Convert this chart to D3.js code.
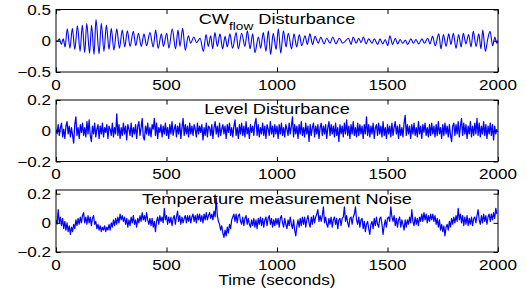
<!DOCTYPE html>
<html><head><meta charset="utf-8">
<script src="https://cdn.jsdelivr.net/npm/d3@7"></script>
<style>body{margin:0;background:#fff}svg{display:block}</style>
</head><body><svg id="c" width="527" height="295"></svg>
<script>
// ---------- DATA ----------
const timeTicks = [0, 500, 1000, 1500, 2000];
const cwTicks = [-0.5, 0, 0.5];
const levelTicks = [-0.2, 0, 0.2];
const tempTicks = [-0.2, 0, 0.2];
const xLabel = "Time (seconds)";

// CW flow disturbance: turning points (seconds, value)
const cwTime = [0,6,15,24,33,41,51,63,74,85,97,109,119,130,139,152,161,172,181,195,205,217,228,240,250,262,275,287,300,311,323,335,350,361,373,386,398,410,425,440,451,462,477,486,501,511,526,541,552,561,573,585,599,609,624,636,652,667,679,689,700,709,719,730,742,754,765,775,787,799,815,825,840,855,866,878,890,900,916,926,938,950,961,971,983,996,1006,1017,1029,1041,1051,1066,1077,1089,1101,1112,1127,1137,1149,1161,1172,1187,1198,1213,1225,1240,1252,1267,1282,1297,1324,1335,1345,1358,1370,1380,1391,1403,1415,1430,1440,1456,1466,1478,1490,1501,1511,1523,1535,1546,1557,1569,1581,1591,1606,1617,1629,1641,1656,1667,1682,1692,1704,1716,1732,1742,1753,1765,1777,1787,1798,1810,1822,1833,1843,1855,1867,1878,1888,1901,1913,1923,1931,1943,1953,1964,1976,1986,1994,2000];
const cwValue = [0,-0.01,0.03,-0.06,0.03,-0.10,0.19,-0.12,0.20,-0.14,0.24,-0.17,0.25,-0.19,0.28,-0.20,0.25,-0.22,0.34,-0.21,0.28,-0.17,0.25,-0.14,0.20,-0.15,0.19,-0.12,0.17,-0.10,0.16,-0.09,0.15,-0.08,0.12,-0.09,0.11,-0.08,0.13,-0.10,0.17,-0.12,0.11,-0.09,0.12,-0.12,0.19,-0.13,0.17,-0.09,0.20,-0.15,0.08,-0.04,0.06,-0.03,0.04,-0.17,0.10,-0.09,0.08,-0.13,0.13,-0.09,0.11,-0.13,0.07,-0.10,0.11,-0.12,0.13,-0.13,0.12,-0.09,0.16,-0.13,0.11,-0.19,0.06,-0.12,0.13,-0.17,0.16,-0.22,0.12,-0.14,0.19,-0.20,0.16,-0.10,0.12,-0.13,0.11,-0.10,0.10,-0.08,0.08,-0.06,0.11,-0.06,0.07,-0.04,0.06,-0.05,0.04,-0.04,0.06,-0.05,0.04,-0.04,0.04,-0.06,0.06,-0.04,0.04,-0.03,0.06,-0.05,0.03,-0.04,0.03,-0.06,0.03,-0.05,0.02,-0.08,0.08,-0.06,0.04,-0.05,0.02,-0.04,0.01,-0.06,0.03,-0.04,0.02,-0.05,0.03,-0.04,0.04,-0.05,0.07,-0.08,0.11,-0.13,0.10,-0.09,0.11,-0.06,0.12,-0.12,0.10,-0.10,0.12,-0.05,0.10,-0.10,0.15,-0.09,0.11,-0.13,0.17,-0.17,0.02,0.15,-0.08,0.06,-0.04,0];

// Level disturbance, one reading every 5 s from t = 0
const levelValue = [
0.01,-0.02,0.04,-0.03,0.02,0.05,-0.04,0.01,-0.05,0.03,0.06,-0.02,0.03,-0.04,0.02,-0.03,-0.08,0.04,0.09,-0.03,
0.02,-0.05,0.04,-0.01,0.05,-0.03,0.02,-0.04,0.06,-0.02,0.07,-0.03,-0.07,0.03,-0.02,0.05,-0.04,0.01,0.04,-0.05,
0.03,-0.02,0.05,-0.04,0.02,-0.01,0.04,-0.05,0.03,0.01,-0.03,0.05,-0.04,0.02,-0.02,0.11,-0.03,0.04,-0.05,0.02,
-0.03,0.05,-0.02,0.03,-0.06,0.04,0.01,-0.03,0.05,-0.04,0.02,-0.02,0.04,-0.05,0.03,0.06,-0.03,0.02,0.08,-0.04,
-0.06,0.03,-0.02,0.05,-0.03,0.02,-0.04,0.04,0.01,0.08,-0.03,0.05,-0.05,0.02,-0.01,0.04,-0.04,0.03,-0.02,0.05,
-0.03,0.02,-0.05,0.04,-0.02,0.06,-0.03,0.01,0.04,-0.04,0.03,-0.02,0.05,-0.05,0.02,0.08,-0.03,0.04,-0.02,0.03,
-0.04,0.05,-0.02,0.03,-0.03,0.04,0.01,-0.04,0.05,-0.02,0.03,-0.01,0.04,-0.06,0.02,-0.03,0.05,-0.04,0.03,0.02,
-0.03,0.04,-0.05,0.02,0.06,-0.02,0.03,-0.04,0.05,-0.03,0.01,0.04,-0.02,0.03,-0.05,0.04,-0.01,0.05,-0.03,0.02,
-0.04,0.03,0.07,-0.03,0.02,-0.05,0.04,-0.02,0.05,-0.03,0.03,-0.04,0.06,-0.02,0.02,-0.05,0.04,-0.01,0.03,-0.03,
0.05,0.08,-0.03,0.04,-0.04,0.02,-0.02,0.05,-0.03,0.03,-0.05,0.04,0.01,-0.03,0.06,-0.02,0.03,-0.04,0.04,-0.02,
0.03,-0.05,0.04,-0.02,0.05,-0.03,0.02,-0.04,0.04,0.01,-0.03,0.05,-0.02,0.03,0.09,-0.04,0.04,-0.02,0.03,-0.05,
0.04,-0.02,0.06,-0.03,0.02,-0.04,0.05,-0.02,0.03,-0.07,0.04,-0.03,0.02,0.05,-0.04,0.03,-0.02,0.04,-0.05,0.02,
0.05,-0.03,0.03,-0.02,0.04,-0.05,0.02,0.06,-0.03,0.04,-0.02,0.03,-0.04,0.05,-0.03,0.02,-0.07,0.04,-0.02,0.03,
-0.04,0.05,-0.02,0.07,-0.03,0.03,-0.05,0.04,-0.02,0.06,-0.03,0.02,-0.04,0.05,-0.03,0.04,-0.02,0.03,-0.05,0.04,
-0.02,0.09,-0.03,0.04,-0.04,0.03,-0.02,0.05,-0.05,0.02,0.04,-0.03,0.05,-0.02,0.03,-0.04,0.06,-0.03,0.02,-0.05,
0.04,-0.02,0.03,-0.04,0.05,-0.03,0.02,0.06,-0.02,0.03,-0.05,0.04,-0.03,0.02,-0.04,0.05,0.10,-0.03,0.04,-0.02,
0.03,-0.05,0.04,-0.02,0.05,-0.03,0.02,-0.04,0.06,-0.02,0.03,-0.05,0.04,-0.01,0.05,-0.03,0.02,-0.04,0.04,-0.03,
0.05,-0.02,0.03,-0.04,0.04,-0.03,0.06,-0.02,0.02,-0.05,0.04,-0.03,0.05,-0.02,0.03,-0.04,0.04,-0.03,-0.07,0.03,
0.05,-0.03,0.04,-0.02,0.06,-0.04,0.03,0.08,-0.03,0.05,-0.02,0.04,-0.05,0.03,-0.02,0.06,-0.04,0.03,-0.03,0.05,
-0.02,0.08,-0.03,0.05,-0.04,0.03,-0.02,0.06,-0.03,0.04,-0.05,0.03,-0.02,0.05,-0.03,0.04,-0.06,0.03,-0.02,0.01];

// Temperature measurement noise, one reading every 5 s from t = 0
const tempValue = [
0.02,-0.01,0.09,0.00,0.04,-0.02,0.03,-0.04,0.01,-0.05,0.00,-0.06,-0.02,-0.08,-0.03,-0.06,-0.01,-0.04,0.02,-0.02,
0.03,-0.01,0.04,0.00,0.05,0.07,0.00,0.04,-0.01,0.05,0.00,0.04,-0.02,0.03,0.05,-0.01,0.01,-0.04,-0.01,-0.05,
-0.02,-0.06,-0.03,-0.05,-0.02,-0.06,-0.03,-0.05,-0.01,-0.05,0.00,-0.03,0.02,-0.02,0.03,-0.01,0.04,0.00,0.06,0.02,
0.05,0.01,0.04,-0.01,0.03,-0.03,0.02,-0.02,0.04,0.00,0.05,-0.01,0.02,-0.03,0.03,0.00,0.05,0.01,0.07,0.02,
0.05,0.01,0.07,0.02,-0.01,0.03,-0.02,0.03,-0.03,0.01,-0.06,0.01,0.04,-0.01,0.05,0.01,0.04,0.00,0.10,0.02,
0.05,-0.01,0.04,0.00,0.04,-0.02,0.03,0.05,-0.01,0.04,0.08,0.01,0.05,-0.01,0.04,0.00,0.03,0.05,0.00,0.05,
0.01,0.05,0.00,0.04,0.06,0.01,0.05,0.00,0.06,0.02,0.06,0.01,0.05,0.00,0.06,0.02,0.07,0.02,0.05,0.07,
0.03,0.06,0.02,0.08,0.04,0.17,0.05,0.01,-0.01,-0.05,-0.02,-0.07,-0.10,-0.05,-0.09,-0.03,-0.07,-0.01,-0.04,0.02,
0.04,0.06,0.01,0.06,0.00,0.05,0.06,0.01,-0.01,0.04,-0.02,0.03,0.05,-0.01,0.03,-0.01,-0.03,0.02,-0.02,0.03,
-0.03,0.02,-0.04,0.03,-0.01,0.04,-0.02,0.03,-0.03,0.02,0.04,-0.02,0.03,0.05,-0.01,0.03,-0.03,0.02,-0.02,0.03,
-0.01,0.03,-0.03,0.03,0.05,0.00,-0.03,0.03,-0.01,-0.04,0.02,-0.02,0.04,-0.01,-0.04,0.02,-0.05,-0.09,-0.02,0.02,
-0.03,0.03,-0.02,0.04,-0.01,0.04,-0.03,0.02,0.05,0.00,-0.03,0.04,-0.01,0.05,0.00,0.04,0.06,0.09,0.01,0.05,
0.01,0.05,0.11,0.00,0.04,-0.01,-0.03,0.03,-0.01,0.04,-0.03,0.02,0.04,-0.01,0.03,-0.04,0.02,0.03,-0.02,0.03,
0.04,0.11,0.01,0.05,0.00,-0.03,0.03,0.04,-0.01,0.04,0.06,0.11,0.02,-0.01,0.04,-0.03,0.02,0.03,-0.04,0.01,
-0.06,-0.01,0.01,-0.04,-0.08,-0.01,0.01,-0.04,0.03,-0.02,0.04,-0.01,-0.03,0.03,0.04,-0.01,-0.08,-0.02,0.02,-0.03,
0.03,0.04,0.01,0.11,0.04,0.01,0.05,-0.02,0.03,-0.03,0.02,0.04,-0.03,0.02,-0.01,-0.05,0.02,-0.03,0.02,-0.01,
0.04,0.00,0.09,0.01,-0.02,0.04,-0.01,0.03,-0.02,0.04,0.01,0.06,0.01,0.07,0.02,0.06,0.00,0.05,0.01,0.06,
0.02,0.06,0.01,0.05,-0.01,0.03,-0.03,0.02,-0.05,-0.01,-0.06,-0.02,-0.09,-0.03,-0.01,-0.05,0.01,-0.03,0.03,-0.01,
0.04,0.00,0.05,0.01,0.10,0.02,0.06,0.00,0.05,-0.02,0.04,-0.01,0.05,-0.02,0.03,-0.01,0.04,-0.02,0.03,0.04,
0.00,0.05,0.09,0.02,-0.01,0.05,0.00,0.06,0.01,0.05,-0.01,0.04,0.06,0.01,0.06,0.02,0.07,0.03,0.10,0.06];
const sampleStep = 5;

// ---------- DRAWING ----------
const FONT = "'Liberation Sans', Arial, Helvetica, sans-serif";
const FS = 14, SX_TICK = 1.22, SX_TITLE = 1.3;
const svg = d3.select("#c");
const L = 56, R = 498;
const x = d3.scaleLinear().domain([0, 2000]).range([L, R]);
const fmt = d3.format("~g");

const sampledTime = levelValue.map((_, i) => i * sampleStep);

const panels = [
  {top: 9.5, bottom: 72, domain: [-0.5, 0.5], ticks: cwTicks,
   t: cwTime, v: cwValue, curve: d3.curveMonotoneX, sw: 1.1, title: "cw"},
  {top: 100, bottom: 161.5, domain: [-0.2, 0.2], ticks: levelTicks,
   t: sampledTime, v: levelValue, curve: d3.curveLinear, sw: 1.25, title: "Level Disturbance"},
  {top: 190, bottom: 252, domain: [-0.2, 0.225], ticks: tempTicks,
   t: sampledTime, v: tempValue, curve: d3.curveLinear, sw: 1.2, title: "Temperature measurement Noise"}
];

function stretchedText(g, px, py, str, anchor, sx, size) {
  return g.append("text")
    .attr("transform", `translate(${px},${py}) scale(${sx},1)`)
    .attr("text-anchor", anchor)
    .attr("font-family", FONT).attr("font-size", size || FS)
    .attr("fill", "#000").text(str);
}

panels.forEach((p, i) => {
  const y = d3.scaleLinear().domain(p.domain).range([p.bottom, p.top]);
  const g = svg.append("g");
  const clipId = "clip" + i;
  svg.append("clipPath").attr("id", clipId).append("rect")
    .attr("x", L).attr("y", p.top).attr("width", R - L).attr("height", p.bottom - p.top);

  const pts = p.t.map((t, k) => [t, p.v[k]]);
  g.append("path").datum(pts)
    .attr("clip-path", `url(#${clipId})`)
    .attr("fill", "none").attr("stroke", "#0000ff").attr("stroke-width", p.sw)
    .attr("stroke-linejoin", "round")
    .attr("d", d3.line().x(d => x(d[0])).y(d => y(d[1])).curve(p.curve));

  // ticks on all four sides (inside)
  const TL = 4.5;
  const ax = (a, tr) => g.append("g").attr("transform", tr).call(a)
      .call(s => s.select(".domain").remove())
      .call(s => s.selectAll("line").attr("stroke", "#000"))
      .call(s => s.selectAll("text").remove());
  ax(d3.axisBottom(x).tickValues(timeTicks).tickSize(-TL), `translate(0,${p.bottom})`);
  ax(d3.axisTop(x).tickValues(timeTicks).tickSize(-TL), `translate(0,${p.top})`);
  ax(d3.axisLeft(y).tickValues(p.ticks).tickSize(-TL), `translate(${L},0)`);
  ax(d3.axisRight(y).tickValues(p.ticks).tickSize(-TL), `translate(${R},0)`);

  // box
  g.append("rect").attr("x", L).attr("y", p.top).attr("width", R - L).attr("height", p.bottom - p.top)
    .attr("fill", "none").attr("stroke", "#000").attr("stroke-width", 1);

  // tick labels
  timeTicks.forEach(t => stretchedText(g, x(t), p.bottom + 17.5, fmt(t), "middle", SX_TICK));
  p.ticks.forEach(v => stretchedText(g, L - 5, y(v) + 5, fmt(v), "end", SX_TICK));

  // title
  const cx = (L + R) / 2, ty = p.top + 14;
  if (p.title === "cw") {
    const tt = stretchedText(g, cx, ty, "", "middle", SX_TITLE);
    tt.append("tspan").text("CW");
    tt.append("tspan").attr("dy", 6).attr("font-size", 10.5).text("flow");
    tt.append("tspan").attr("dy", -6).text(" Disturbance");
  } else {
    stretchedText(g, cx, ty, p.title, "middle", SX_TITLE);
  }
});

stretchedText(svg, (L + R) / 2, 285, xLabel, "middle", SX_TICK);
</script>
</body></html>
